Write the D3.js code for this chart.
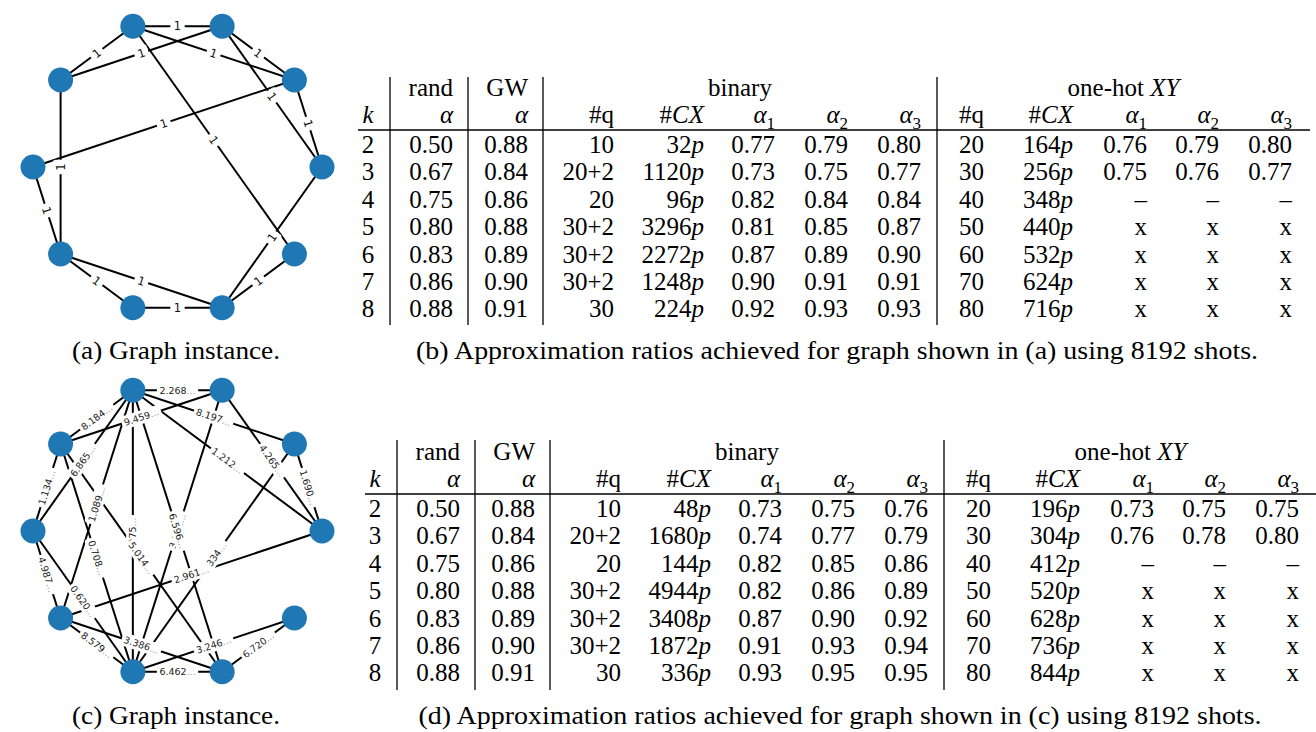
<!DOCTYPE html>
<html>
<head>
<meta charset="utf-8">
<script src="https://cdn.jsdelivr.net/npm/d3@7"></script>
<style>
  body { margin: 0; background: #fff; }
  svg { display: block; }
</style>
</head>
<body>
<script>
// ---------- graph data ----------
const nodeIds = [0, 1, 2, 3, 4, 5, 6, 7, 8, 9];

// unweighted instance (all weights 1)
const edgesA = [[3,2],[3,4],[2,4],[3,1],[2,1],[2,0],[1,0],[3,9],[1,5],[4,6],[5,6],[6,7],[6,8],[7,8],[0,8],[9,8]];
const weightsA = ["1","1","1","1","1","1","1","1","1","1","1","1","1","1","1","1"];

// weighted instance
const edgesC = [[3,2],[3,4],[2,4],[3,1],[3,5],[3,0],[2,0],[1,0],[4,5],[3,6],[3,7],[2,7],[3,8],[4,8],[4,7],[1,7],[0,6],[5,6],[5,7],[6,7],[6,8],[7,9],[8,9],[7,8]];
const weightsC = ["2.268","8.184","9.459","8.197","6.865","1.212","4.265","1.690","1.134","1.089","275","3.905","6.596","5.014","0.708","0.334","2.961","4.987","0.620","8.579","3.386","3.246","6.720","6.462"];

// ---------- table data ----------
const kValues   = [2, 3, 4, 5, 6, 7, 8];
const randAlpha = ["0.50","0.67","0.75","0.80","0.83","0.86","0.88"];
const gwAlpha   = ["0.88","0.84","0.86","0.88","0.89","0.90","0.91"];
const binQubits = ["10","20+2","20","30+2","30+2","30+2","30"];
const hotQubits = ["20","30","40","50","60","70","80"];

// table (b)
const binCxB = ["32","1120","96","3296","2272","1248","224"];
const binA1B = ["0.77","0.73","0.82","0.81","0.87","0.90","0.92"];
const binA2B = ["0.79","0.75","0.84","0.85","0.89","0.91","0.93"];
const binA3B = ["0.80","0.77","0.84","0.87","0.90","0.91","0.93"];
const hotCxB = ["164","256","348","440","532","624","716"];
const hotA1B = ["0.76","0.75","\u2013","x","x","x","x"];
const hotA2B = ["0.79","0.76","\u2013","x","x","x","x"];
const hotA3B = ["0.80","0.77","\u2013","x","x","x","x"];

// table (d)
const binCxD = ["48","1680","144","4944","3408","1872","336"];
const binA1D = ["0.73","0.74","0.82","0.82","0.87","0.91","0.93"];
const binA2D = ["0.75","0.77","0.85","0.86","0.90","0.93","0.95"];
const binA3D = ["0.76","0.79","0.86","0.89","0.92","0.94","0.95"];
const hotCxD = ["196","304","412","520","628","736","844"];
const hotA1D = ["0.73","0.76","\u2013","x","x","x","x"];
const hotA2D = ["0.75","0.78","\u2013","x","x","x","x"];
const hotA3D = ["0.75","0.80","\u2013","x","x","x","x"];

const captions = {
  a: "(a) Graph instance.",
  b: "(b) Approximation ratios achieved for graph shown in (a) using 8192 shots.",
  c: "(c) Graph instance.",
  d: "(d) Approximation ratios achieved for graph shown in (c) using 8192 shots."
};

// ---------- drawing ----------
const W = 1316, H = 732;
const SERIF = '"Liberation Serif", "Times New Roman", serif';
const SANS = '"DejaVu Sans", sans-serif';
const svg = d3.select("body").append("svg").attr("width", W).attr("height", H);

function drawGraph(cy, edges, weights, opt) {
  const g = svg.append("g");
  const x = d3.scaleLinear().domain([-1, 1]).range([33, 322]);
  const y = d3.scaleLinear().domain([-1, 1]).range([cy + 148, cy - 148]);
  // circular layout: node i sits at angle 2*pi*i/n
  const pos = nodeIds.map(i => {
    const t = 2 * Math.PI * i / nodeIds.length;
    return [x(Math.cos(t)), y(Math.sin(t))];
  });

  g.append("g").selectAll("line").data(edges).join("line")
    .attr("x1", d => pos[d[0]][0]).attr("y1", d => pos[d[0]][1])
    .attr("x2", d => pos[d[1]][0]).attr("y2", d => pos[d[1]][1])
    .attr("stroke", "#000").attr("stroke-width", 2);

  g.append("g").selectAll("circle").data(nodeIds).join("circle")
    .attr("cx", d => pos[d][0]).attr("cy", d => pos[d][1])
    .attr("r", 12.5).attr("fill", "#1f77b4");

  const labels = g.append("g");
  edges.forEach((e, i) => {
    const [x1, y1] = pos[e[0]], [x2, y2] = pos[e[1]];
    let a = Math.atan2(y2 - y1, x2 - x1) * 180 / Math.PI;
    if (a > 90) a -= 180;
    if (a < -90) a += 180;
    const lg = labels.append("g")
      .attr("transform", `translate(${(x1 + x2) / 2},${(y1 + y2) / 2}) rotate(${a})`);
    const rect = lg.append("rect").attr("fill", "#fff");
    const t = lg.append("text")
      .style("font-family", SANS).style("font-size", opt.fontSize + "px")
      .attr("text-anchor", "middle").attr("dy", "0.36em");
    t.append("tspan").attr("fill", opt.color).text(weights[i]);
    if (opt.ellipsis) t.append("tspan").attr("fill", "#9a9a9a").text("...");
    const bb = t.node().getBBox();
    rect.attr("x", bb.x - opt.padX).attr("y", -opt.fontSize * 0.55 - opt.padY)
      .attr("width", bb.width + 2 * opt.padX)
      .attr("height", opt.fontSize * 1.1 + 2 * opt.padY)
      .attr("rx", 3);
  });
}

drawGraph(167, edgesA, weightsA, { fontSize: 11.5, padX: 3.5, padY: 1.5, color: "#111", ellipsis: false });
drawGraph(531, edgesC, weightsC, { fontSize: 9.5, padX: 2.5, padY: 1.5, color: "#222", ellipsis: true });

// ---------- tables ----------
const FS = 25;
function cell(g, x, y, parts, anchor) {
  const t = g.append("text").attr("x", x).attr("y", y)
    .attr("text-anchor", anchor || "end")
    .style("font-family", SERIF).style("font-size", FS + "px").attr("fill", "#000");
  parts.forEach(p => {
    const s = t.append("tspan").text(p.t);
    if (p.i) s.style("font-style", "italic");
    if (p.sub) s.style("font-size", (FS * 0.68) + "px").attr("dy", FS * 0.24);
  });
  return t;
}

function drawTable(L, cols) {
  const g = svg.append("g").attr("transform", `translate(${L.dx},0)`);
  const C = { k: 368, rand: 453, gw: 528, bq: 614, bcx: 704, ba1: 775, ba2: 848, ba3: 921,
              hq: 984, hcx: 1073, ha1: 1147, ha2: 1219, ha3: 1292 };
  const vlines = [390, 468, 543, 937];
  const rowY = d3.scaleLinear().domain([2, 8]).range([L.row0, L.row0 + 6 * 27.4]);

  // rules
  g.selectAll("line.v").data(vlines).join("line")
    .attr("x1", d => d).attr("x2", d => d).attr("y1", L.top).attr("y2", L.bottom)
    .attr("stroke", "#000").attr("stroke-width", 1.3);
  g.append("line").attr("x1", 358).attr("x2", 1310).attr("y1", L.rule).attr("y2", L.rule)
    .attr("stroke", "#000").attr("stroke-width", 1.3);

  // header row 1
  const h1 = L.rule - 34, h2 = L.rule - 7;
  cell(g, C.rand, h1, [{ t: "rand" }]);
  cell(g, C.gw, h1, [{ t: "GW" }]);
  cell(g, (543 + 937) / 2, h1, [{ t: "binary" }], "middle");
  cell(g, (937 + 1310) / 2, h1, [{ t: "one-hot " }, { t: "XY", i: true }], "middle");

  // header row 2
  cell(g, C.k, h2, [{ t: "k", i: true }], "middle");
  cell(g, C.rand, h2, [{ t: "\u03b1", i: true }]);
  cell(g, C.gw, h2, [{ t: "\u03b1", i: true }]);
  [["bq", "bcx", "ba1", "ba2", "ba3"], ["hq", "hcx", "ha1", "ha2", "ha3"]].forEach(grp => {
    cell(g, C[grp[0]], h2, [{ t: "#q" }]);
    cell(g, C[grp[1]], h2, [{ t: "#" }, { t: "CX", i: true }]);
    cell(g, C[grp[2]], h2, [{ t: "\u03b1", i: true }, { t: "1", sub: true }]);
    cell(g, C[grp[3]], h2, [{ t: "\u03b1", i: true }, { t: "2", sub: true }]);
    cell(g, C[grp[4]], h2, [{ t: "\u03b1", i: true }, { t: "3", sub: true }]);
  });

  // body
  kValues.forEach((k, r) => {
    const yb = rowY(k) + 8;
    cell(g, C.k, yb, [{ t: String(k) }], "middle");
    cell(g, C.rand, yb, [{ t: randAlpha[r] }]);
    cell(g, C.gw, yb, [{ t: gwAlpha[r] }]);
    cell(g, C.bq, yb, [{ t: binQubits[r] }]);
    cell(g, C.bcx, yb, [{ t: cols.binCx[r] }, { t: "p", i: true }]);
    cell(g, C.ba1, yb, [{ t: cols.binA1[r] }]);
    cell(g, C.ba2, yb, [{ t: cols.binA2[r] }]);
    cell(g, C.ba3, yb, [{ t: cols.binA3[r] }]);
    cell(g, C.hq, yb, [{ t: hotQubits[r] }]);
    cell(g, C.hcx, yb, [{ t: cols.hotCx[r] }, { t: "p", i: true }]);
    cell(g, C.ha1, yb, [{ t: cols.hotA1[r] }]);
    cell(g, C.ha2, yb, [{ t: cols.hotA2[r] }]);
    cell(g, C.ha3, yb, [{ t: cols.hotA3[r] }]);
  });
}

drawTable({ dx: 0, top: 77, bottom: 325, rule: 130, row0: 145 },
  { binCx: binCxB, binA1: binA1B, binA2: binA2B, binA3: binA3B, hotCx: hotCxB, hotA1: hotA1B, hotA2: hotA2B, hotA3: hotA3B });
drawTable({ dx: 7, top: 440, bottom: 690, rule: 494, row0: 509 },
  { binCx: binCxD, binA1: binA1D, binA2: binA2D, binA3: binA3D, hotCx: hotCxD, hotA1: hotA1D, hotA2: hotA2D, hotA3: hotA3D });

// ---------- captions ----------
function caption(text, cx, y, len) {
  svg.append("text").attr("x", cx).attr("y", y).attr("text-anchor", "middle")
    .style("font-family", SERIF).style("font-size", FS + "px")
    .attr("textLength", len).attr("lengthAdjust", "spacingAndGlyphs")
    .text(text);
}
caption(captions.a, 176, 359, 208);
caption(captions.b, 837, 359, 842);
caption(captions.c, 176, 724, 208);
caption(captions.d, 840, 724, 843);
</script>
</body>
</html>
